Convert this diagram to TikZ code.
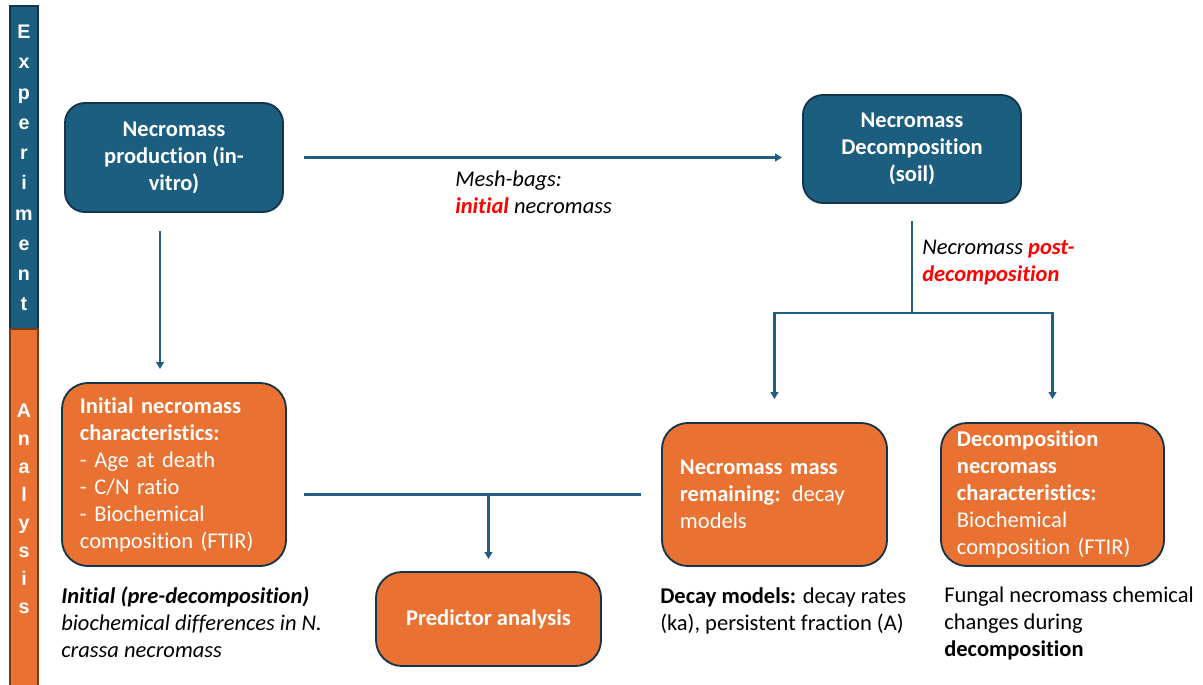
\documentclass[tikz,border=0pt]{standalone}
\usepackage{fontspec}
\setmainfont{Carlito}[Ligatures=NoCommon]
\newfontfamily\barfont{Liberation Sans}
\usetikzlibrary{arrows.meta}

\definecolor{expblue}{HTML}{1B5E80}
\definecolor{anaorange}{HTML}{E97132}
\definecolor{edgeblue}{HTML}{1F6082}
\definecolor{darkline}{HTML}{14344A}
\definecolor{barbrown}{HTML}{7A3A16}

\tikzset{
  expbox/.style={rectangle,rounded corners=0.5cm,draw=darkline,line width=1.3pt,
    fill=expblue,text=white,font=\bfseries\fontsize{16}{19.2}\selectfont,
    align=center,minimum width=5.45cm},
  anabox/.style={rectangle,rounded corners=0.65cm,draw=darkline,line width=1.3pt,
    fill=anaorange,text=white,font=\fontsize{16}{19.2}\selectfont,align=left},
  note/.style={anchor=north west,inner sep=0pt,align=left,text=black,
    font=\fontsize{16}{19.2}\selectfont},
  link/.style={draw=edgeblue,line width=1.6pt},
  flow/.style={link,-{Triangle[length=5pt,width=5.5pt]}},
  bar/.style={rectangle,inner sep=0pt,minimum width=0.7cm,line width=1.2pt,
    text=white,align=center}
}

\begin{document}
\begin{tikzpicture}[x=0.025cm,y=-0.025cm]
  \useasboundingbox (0,0) rectangle (1203,684);

  % side bars
  \node[bar,fill=expblue,draw=darkline,minimum height=8.1cm,
    font=\barfont\bfseries\fontsize{14}{21.5}\selectfont] (expbar) at (24,168)
    {E\\x\\p\\e\\r\\i\\m\\e\\n\\t};
  \node[bar,fill=anaorange,draw=barbrown,minimum height=9cm,
    font=\barfont\bfseries\fontsize{14}{19.9}\selectfont] (anabar) at (24,509)
    {A\\n\\a\\l\\y\\s\\i\\s};

  % experiment
  \node[expbox,minimum height=2.725cm] (prod)   at (174,157.5) {Necromass\\production (in-\\vitro)};
  \node[expbox,minimum height=2.7cm]   (decomp) at (912,149)   {Necromass\\Decomposition\\(soil)};

  % analysis
  \node[anabox,text width=4.7cm,inner xsep=0.45cm,minimum height=4.575cm] (initchar) at (174,474.5)
    {\textbf{Initial necromass}\\\textbf{characteristics:}\\- Age at death\\- C/N ratio\\- Biochemical\\composition (FTIR)};
  \node[anabox,text width=4.725cm,inner xsep=0.45cm,minimum height=3.575cm] (massrem) at (774.5,494.5)
    {\textbf{Necromass mass}\\\textbf{remaining:} decay\\models};
  \node[anabox,text width=4.775cm,inner xsep=0.4cm,minimum height=3.575cm] (decchar) at (1052.5,494.5)
    {\textbf{Decomposition}\\\textbf{necromass}\\\textbf{characteristics:}\\Biochemical\\composition (FTIR)};
  \node[anabox,align=center,minimum width=5.625cm,minimum height=2.35cm,
    font=\bfseries\fontsize{16}{19.2}\selectfont] (predict) at (488.5,619) {Predictor analysis};

  % notes
  \node[note] (meshnote) at (455,171)
    {\textit{Mesh-bags:}\\\textcolor{red}{\textbf{\textit{initial}}} \textit{necromass}};
  \node[note] (postnote) at (922,240)
    {\textit{Necromass} \textcolor{red}{\textbf{\textit{post-}}}\\\textcolor{red}{\textbf{\textit{decomposition}}}};
  \node[note] (initnote) at (61,587)
    {\textbf{\textit{Initial (pre-decomposition)}}\\\textit{biochemical differences in N.}\\\textit{crassa necromass}};
  \node[note] (decaynote) at (660,587)
    {\textbf{Decay models:} decay rates\\(ka), persistent fraction (A)};
  \node[note] (chemnote) at (944,587)
    {Fungal necromass chemical\\changes during\\\textbf{decomposition}};

  % connectors
  \coordinate (split) at (912,313);
  \coordinate (merge) at (predict.north |- massrem.west);

  \draw[flow,shorten <=0.5cm,shorten >=0.5cm] (prod.east) -- (prod.east -| decomp.west);
  \draw[flow,shorten <=0.45cm,shorten >=0.325cm] ([xshift=-0.35cm]prod.south) -- ([xshift=-0.35cm]prod.south |- initchar.north);
  \draw[link,shorten <=0.425cm] (decomp.south) -- (split);
  \draw[flow,shorten >=0.575cm] (split) -| (massrem.north);
  \draw[flow,shorten >=0.575cm] (split) -| (decchar.north);
  \draw[link,shorten <=0.425cm,shorten >=0.5cm] (initchar.east |- massrem.west) -- (massrem.west);
  \draw[flow,shorten >=0.3cm] (merge) -- (predict.north);

\end{tikzpicture}
\end{document}
